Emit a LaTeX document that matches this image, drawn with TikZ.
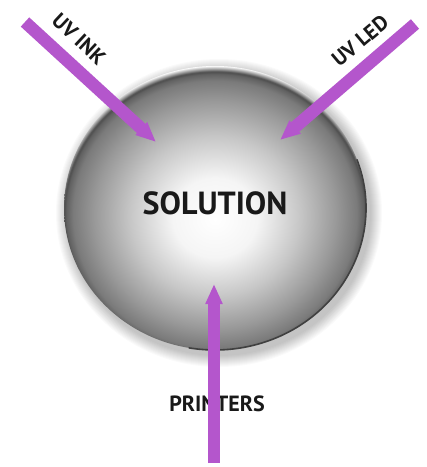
\documentclass[tikz,border=0pt]{standalone}
\usepackage{fontspec}
\setmainfont{PT Sans}
\usetikzlibrary{arrows.meta,shapes.geometric}
\definecolor{arrowpurple}{RGB}{180,86,204}
\pgfdeclareradialshading{sphereshade}{\pgfpoint{0bp}{-2bp}}{%
  color(0bp)=(white);
  color(7bp)=(white!96!black);
  color(14bp)=(black!22);
  color(20bp)=(black!40);
  color(23.5bp)=(black!52);
  color(24.6bp)=(black!62);
  color(25bp)=(black!70);
  color(26bp)=(white);
  color(50bp)=(white)}
\tikzset{
  feed/.style={line width=12.5pt, draw=arrowpurple, -{Triangle[length=20pt,width=16pt]}},
  lbl/.style={text=black!90, inner sep=1pt},
}
\begin{document}
\begin{tikzpicture}[x=1pt,y=-1pt]
\useasboundingbox (0,0) rectangle (427,467);
\fill[white] (0,0) rectangle (427,467);
% soft shadow halo
\foreach \d in {1,2,...,12}{
  \fill[black, opacity=0.018] (219,213) ellipse ({151+\d} and {142+\d});
}
\shade[shading=sphereshade] (215,208) ellipse (151 and 142);
\draw[black!75, line width=1.6pt] (215,208) ++(-20:151 and 142) arc[start angle=-20, end angle=100, x radius=151, y radius=142];
\node[ellipse, minimum width=302pt, minimum height=284pt, inner sep=0pt] (ball) at (215,208) {};
\node[lbl, font=\bfseries\fontsize{32}{36}\selectfont] (sol) at (215,203) {SOLUTION};
% arrows
\coordinate (inkS) at (25,22);
\coordinate (inkE) at (156,142);
\coordinate (ledS) at (415,24);
\coordinate (ledE) at (280,140);
\coordinate (prS) at (214,463);
\coordinate (prE) at (214,284);
\node[lbl, font=\bfseries\fontsize{22}{26}\selectfont] (pr) at (217,404) {PRINTERS};
\draw[feed] (inkS) -- (inkE);
\draw[feed] (ledS) -- (ledE);
\draw[feed] (prS) -- (prE);
\node[lbl, font=\bfseries\fontsize{21}{24}\selectfont, rotate=-43] (ink) at (79,39) {UV INK};
\node[lbl, font=\bfseries\fontsize{21}{24}\selectfont, rotate=40] (led) at (360,41) {UV LED};
\end{tikzpicture}
\end{document}
